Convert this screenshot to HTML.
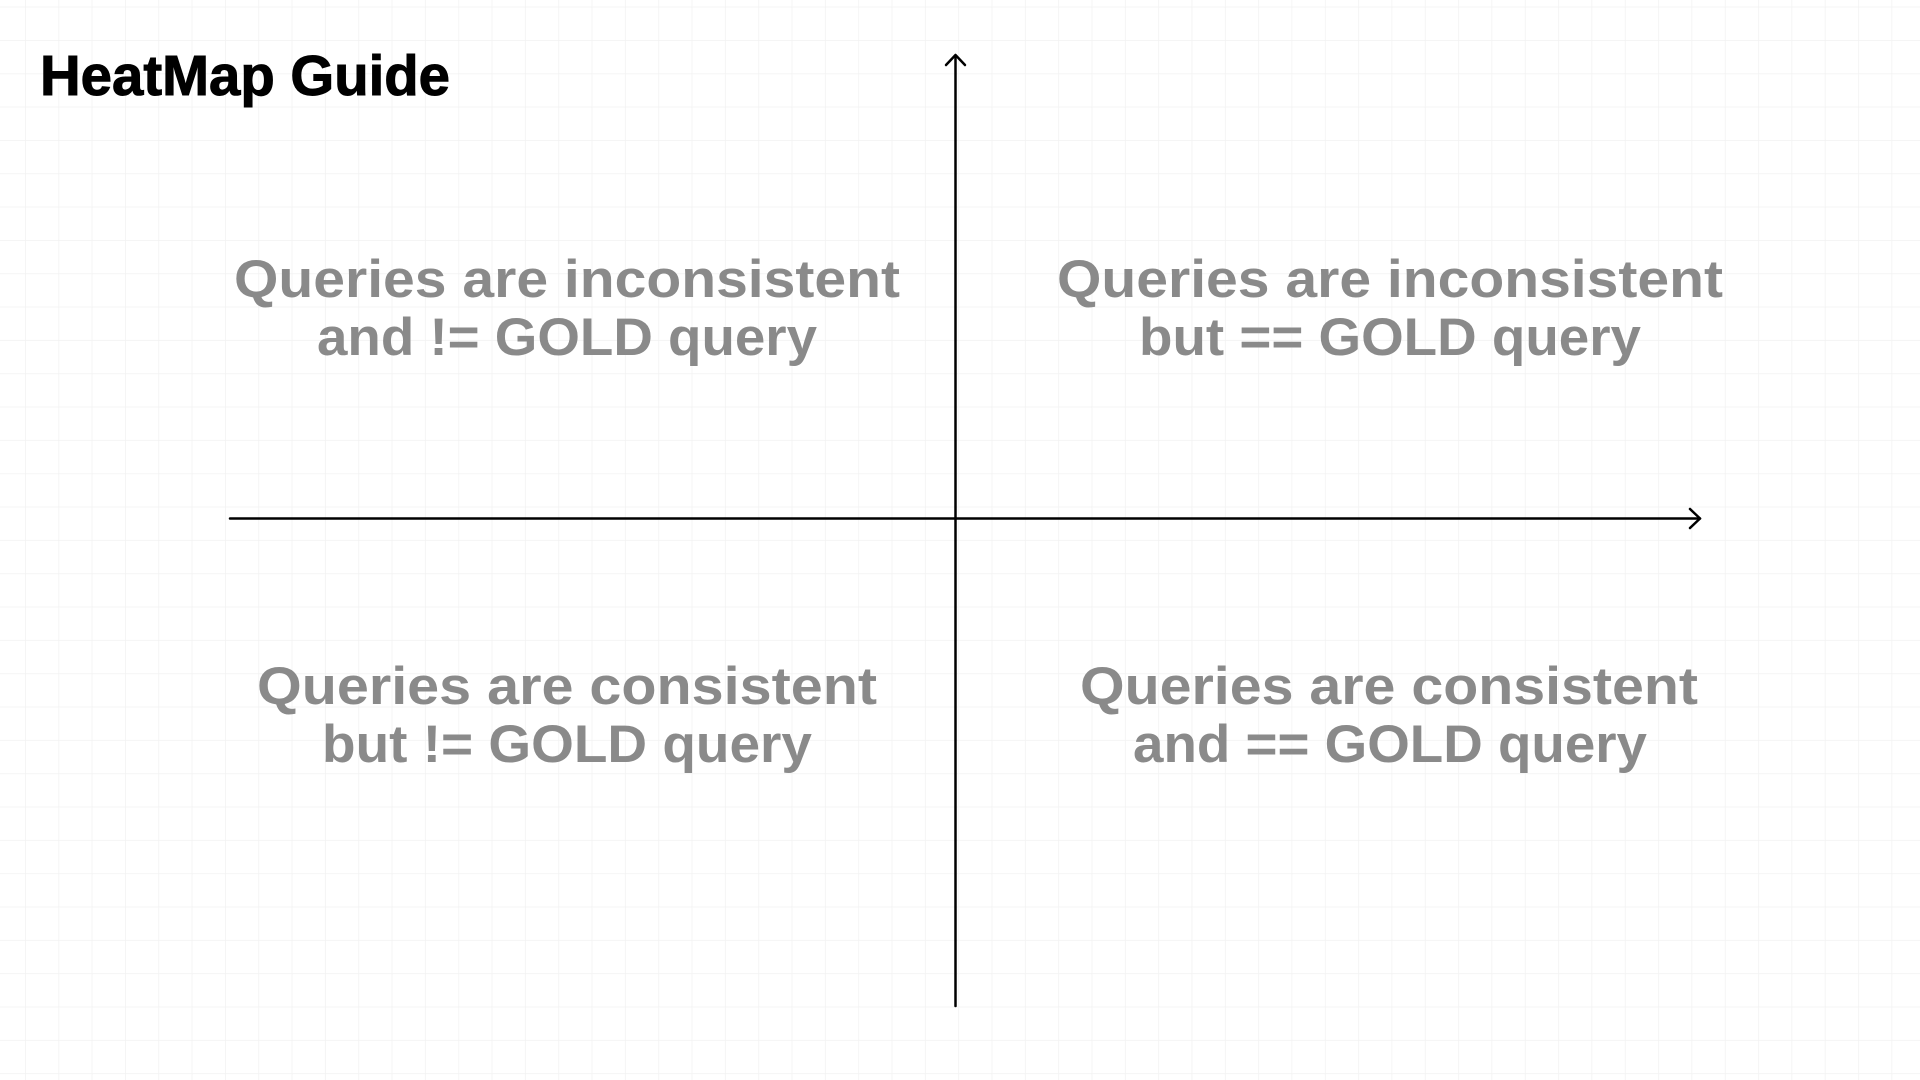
<!DOCTYPE html>
<html><head><meta charset="utf-8"><style>
html,body{margin:0;padding:0;width:1920px;height:1080px;overflow:hidden;background:#fff}
</style></head><body>
<svg width="1920" height="1080" xmlns="http://www.w3.org/2000/svg">
<defs>
<pattern id="g" x="25" y="6.67" width="33.33" height="33.33" patternUnits="userSpaceOnUse">
<path d="M0 0H33.33M0 0V33.33" stroke="#f2f2f2" stroke-width="1.5" fill="none"/>
</pattern>
</defs>
<rect width="1920" height="1080" fill="url(#g)"/>
<text x="40" y="95" font-family="Liberation Sans, sans-serif" font-weight="bold" font-size="57" textLength="410" lengthAdjust="spacingAndGlyphs" fill="#000" stroke="#000" stroke-width="1">HeatMap Guide</text>
<g stroke="#000" stroke-width="2.5" fill="none" stroke-linecap="round" stroke-linejoin="round">
<line x1="955.5" y1="56" x2="955.5" y2="1006"/>
<polyline points="946,65 955.5,55 965,65"/>
<line x1="230" y1="518.5" x2="1700" y2="518.5"/>
<polyline points="1690,509 1700,518.5 1690,528"/>
</g>
<g font-family="Liberation Sans, sans-serif" font-weight="bold" font-size="53" fill="#8a8a8a">
<text x="234" y="297" textLength="666" lengthAdjust="spacingAndGlyphs">Queries are inconsistent</text>
<text x="317" y="355" textLength="500" lengthAdjust="spacingAndGlyphs">and != GOLD query</text>
<text x="1057" y="297" textLength="666" lengthAdjust="spacingAndGlyphs">Queries are inconsistent</text>
<text x="1139" y="355" textLength="502" lengthAdjust="spacingAndGlyphs">but == GOLD query</text>
<text x="257" y="704" textLength="620" lengthAdjust="spacingAndGlyphs">Queries are consistent</text>
<text x="322" y="762" textLength="490" lengthAdjust="spacingAndGlyphs">but != GOLD query</text>
<text x="1080" y="704" textLength="618" lengthAdjust="spacingAndGlyphs">Queries are consistent</text>
<text x="1133" y="762" textLength="514" lengthAdjust="spacingAndGlyphs">and == GOLD query</text>
</g>
</svg>
</body></html>
